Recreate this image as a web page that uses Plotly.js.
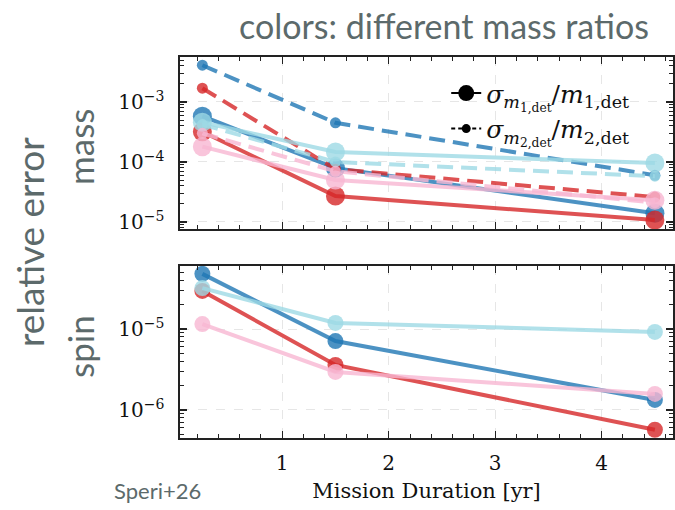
<!DOCTYPE html>
<html>
<head>
<meta charset="utf-8">
<script src="https://cdn.plot.ly/plotly-3.0.1.min.js"></script>
<style>html,body{margin:0;padding:0;background:#fff;}#chart{width:675px;height:510px;}</style>
</head>
<body>
<div id="chart"></div>
<script>
// ---- data ----
const duration = [0.25, 1.5, 4.5];
const seriesNames = ["q1", "q2", "q3", "q4"];
const seriesColors = ["31,119,180", "214,39,40", "158,218,229", "247,182,210"];

const massM1_q1 = [5.8e-4, 7.9e-5, 1.4e-5];
const massM1_q2 = [3.2e-4, 2.7e-5, 1.08e-5];
const massM1_q3 = [4.6e-4, 1.47e-4, 9.6e-5];
const massM1_q4 = [1.8e-4, 5.0e-5, 2.3e-5];

const massM2_q1 = [4.1e-3, 4.5e-4, 6.0e-5];
const massM2_q2 = [1.7e-3, 7.6e-5, 2.6e-5];
const massM2_q3 = [4.2e-4, 1.0e-4, 5.8e-5];
const massM2_q4 = [3.0e-4, 7.0e-5, 2.1e-5];

const spin_q1 = [4.8e-5, 7.1e-6, 1.33e-6];
const spin_q2 = [2.95e-5, 3.6e-6, 5.7e-7];
const spin_q3 = [3.2e-5, 1.19e-5, 9.2e-6];
const spin_q4 = [1.15e-5, 2.95e-6, 1.58e-6];

const massTickVals = [1e-5, 1e-4, 1e-3];
const massTickText = ["10<sup>−5</sup>", "10<sup>−4</sup>", "10<sup>−3</sup>"];
const spinTickVals = [1e-6, 1e-5];
const spinTickText = ["10<sup>−6</sup>", "10<sup>−5</sup>"];
const xTickVals = [1, 2, 3, 4];

const legendM1 = "<i>σ</i><sub><i>m</i><sub>1,det</sub></sub>/<i>m</i><sub>1,det</sub>";
const legendM2 = "<i>σ</i><sub><i>m</i><sub>2,det</sub></sub>/<i>m</i><sub>2,det</sub>";

// ---- build ----
const massM1 = [massM1_q1, massM1_q2, massM1_q3, massM1_q4];
const massM2 = [massM2_q1, massM2_q2, massM2_q3, massM2_q4];
const spin = [spin_q1, spin_q2, spin_q3, spin_q4];

function minorVals(lo, hi) {
  const v = [];
  for (let e = lo; e < hi; e++) {
    for (let k = 2; k <= 9; k++) v.push(k * Math.pow(10, e));
  }
  return v;
}

const A = 0.8;
const traces = [];
for (let i = 0; i < 4; i++) {
  const c = seriesColors[i];
  traces.push({
    x: duration, y: massM1[i], xaxis: "x", yaxis: "y", mode: "lines+markers",
    line: {color: `rgba(${c},${A})`, width: 4},
    marker: {color: `rgba(${c},${A})`, size: 19},
    showlegend: false, name: seriesNames[i]
  });
  traces.push({
    x: duration, y: massM2[i], xaxis: "x", yaxis: "y", mode: "lines+markers",
    line: {color: `rgba(${c},${A})`, width: 4, dash: "16px,8px"},
    marker: {color: `rgba(${c},${A})`, size: 11},
    showlegend: false, name: seriesNames[i]
  });
}
for (let i = 0; i < 4; i++) {
  const c = seriesColors[i];
  traces.push({
    x: duration, y: spin[i], xaxis: "x2", yaxis: "y2", mode: "lines+markers",
    line: {color: `rgba(${c},${A})`, width: 4},
    marker: {color: `rgba(${c},${A})`, size: 16},
    showlegend: false, name: seriesNames[i]
  });
}
// legend entries
traces.push({x: [null], y: [null], xaxis: "x", yaxis: "y", mode: "lines+markers",
  line: {color: "black", width: 2}, marker: {color: "black", size: 16}, name: legendM1, showlegend: true});
traces.push({x: [null], y: [null], xaxis: "x", yaxis: "y", mode: "lines+markers",
  line: {color: "black", width: 2, dash: "4px,3px"}, marker: {color: "black", size: 9}, name: legendM2, showlegend: true});

const serif = "DejaVu Serif, Liberation Serif, serif";
const sans = "Lato, Noto Sans, sans-serif";
const gray = "#5c6a6b";

const xCommon = {
  range: [0.04, 4.67], tickmode: "array", tickvals: xTickVals,
  ticks: "inside", ticklen: 7, tickwidth: 1.3, tickcolor: "#222",
  showline: true, linecolor: "#222", linewidth: 1.6, mirror: "allticks",
  showgrid: true, gridcolor: "#e6e6e6", griddash: "dash", gridwidth: 1,
  zeroline: false,
  minor: {tickmode: "linear", tick0: 0, dtick: 0.2, ticks: "inside", ticklen: 4, tickwidth: 1, tickcolor: "#222", showgrid: false},
  tickfont: {family: serif, size: 20, color: "#111"}
};
const yCommon = {
  type: "log", tickmode: "array",
  ticks: "inside", ticklen: 7, tickwidth: 1.3, tickcolor: "#222",
  showline: true, linecolor: "#222", linewidth: 1.6, mirror: "allticks",
  showgrid: true, gridcolor: "#e6e6e6", griddash: "dash", gridwidth: 1,
  zeroline: false, ticklabelstandoff: 10,
  tickfont: {family: serif, size: 20, color: "#111"}
};

const layout = {
  width: 675, height: 510,
  margin: {l: 180, r: 2, t: 57, b: 72},
  paper_bgcolor: "white", plot_bgcolor: "white",
  showlegend: true,
  legend: {x: 0.54, y: 0.965, xanchor: "left", yanchor: "top", bgcolor: "rgba(0,0,0,0)",
    font: {family: serif, size: 25, color: "#111"}, tracegroupgap: 0, itemwidth: 30},
  xaxis: Object.assign({}, xCommon, {anchor: "y", showticklabels: false, matches: "x2"}),
  xaxis2: Object.assign({}, xCommon, {anchor: "y2", ticklabelstandoff: 6,
    title: {text: "Mission Duration [yr]", font: {family: serif, size: 21, color: "#111"}, standoff: 10}}),
  yaxis: Object.assign({}, yCommon, {domain: [0.5486, 1], range: [-5.117, -2.25],
    tickvals: massTickVals, ticktext: massTickText,
    minor: {tickmode: "array", tickvals: minorVals(-6, -2), ticks: "inside", ticklen: 4, tickwidth: 1, tickcolor: "#222", showgrid: false}}),
  yaxis2: Object.assign({}, yCommon, {domain: [0, 0.4514], range: [-6.346, -4.222],
    tickvals: spinTickVals, ticktext: spinTickText,
    minor: {tickmode: "array", tickvals: minorVals(-7, -4), ticks: "inside", ticklen: 4, tickwidth: 1, tickcolor: "#222", showgrid: false}}),
  annotations: [
    {text: "colors: different mass ratios", xref: "paper", yref: "paper", x: (444 - 180) / 493, y: 1 + (57 - 25) / 381,
      xanchor: "center", yanchor: "middle", showarrow: false, font: {family: sans, size: 34, color: gray}},
    {text: "relative error", xref: "paper", yref: "paper", x: (30 - 180) / 493, y: (438 - 242) / 381,
      xanchor: "center", yanchor: "middle", textangle: -90, showarrow: false, font: {family: sans, size: 37, color: gray}},
    {text: "mass", xref: "paper", yref: "paper", x: (80 - 180) / 493, y: (438 - 147) / 381,
      xanchor: "center", yanchor: "middle", textangle: -90, showarrow: false, font: {family: sans, size: 35, color: gray}},
    {text: "spin", xref: "paper", yref: "paper", x: (80 - 180) / 493, y: (438 - 347) / 381,
      xanchor: "center", yanchor: "middle", textangle: -90, showarrow: false, font: {family: sans, size: 35, color: gray}},
    {text: "Speri+26", xref: "paper", yref: "paper", x: (112 - 180) / 493, y: (438 - 490) / 381,
      xanchor: "left", yanchor: "middle", showarrow: false, font: {family: sans, size: 22, color: gray}}
  ]
};

Plotly.newPlot("chart", traces, layout, {displayModeBar: false, staticPlot: true});
</script>
</body>
</html>
